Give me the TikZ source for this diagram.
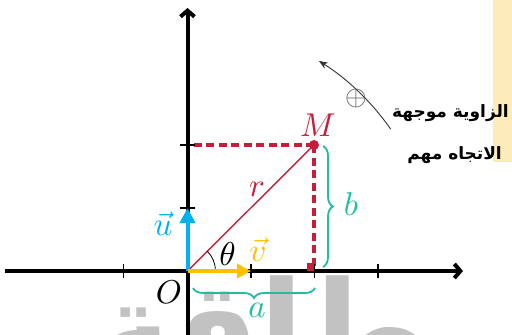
\documentclass[tikz,border=0pt]{standalone}
\usepackage{fontspec}
\usetikzlibrary{arrows.meta,decorations.pathreplacing,calc}
\newfontfamily\arabicfont[Script=Arabic]{DejaVu Sans}
\TeXXeTstate=1
\definecolor{myred}{RGB}{196,30,58}
\definecolor{myblue}{RGB}{0,176,240}
\definecolor{myyellow}{RGB}{255,192,0}
\definecolor{myteal}{RGB}{32,190,160}
\definecolor{wmgray}{RGB}{194,194,194}
\definecolor{paleyellow}{RGB}{253,236,186}
\tikzset{
  axis/.style={line width=4pt,-{Straight Barb[length=6pt,width=14pt]}},
  tick/.style={line width=1.4pt},
  lbl/.style={inner sep=0pt,scale=3.3},
  dashred/.style={myred,line width=3.6pt,dash pattern=on 8pt off 4.5pt},
  tealbrace/.style={myteal,line width=1.8pt,decorate,decoration={brace,amplitude=10pt}},
  artext/.style={inner sep=0pt,font=\arabicfont\bfseries\fontsize{17}{17}\selectfont}
}
\begin{document}
\begin{tikzpicture}[x=1pt,y=-1pt]
\useasboundingbox (0,0) rectangle (512,335);
% background elements
\fill[paleyellow] (493,0) rectangle (512,162);
\node[text=wmgray,inner sep=0pt,anchor=north,font=\arabicfont\bfseries\fontsize{130}{130}\selectfont] (wm) at (290,276) {\beginR بطاقة\endR};
% points
\coordinate (O) at (187.5,271);
\coordinate (M) at (314,145);
\coordinate (Mx) at (314,271);
\coordinate (My) at (187.5,145);
\coordinate (Xs) at (5,271);
\coordinate (Xe) at (463,271);
\coordinate (Ys) at (187.5,335);
\coordinate (Ye) at (187.5,8);
\coordinate (U) at (187.5,208);
\coordinate (V) at (251,271);
% dashed projections
\draw[dashred] (M) -- (My);
\draw[dashred] (M) -- (Mx);
% axes
\draw[axis] (Xs) -- (Xe);
\draw[axis] (Ys) -- (Ye);
% ticks
\foreach \x in {123.5,251,314.5,378} \draw[tick] (\x,264) -- (\x,278);
\foreach \y in {208,145} \draw[tick] (180,\y) -- (195,\y);
% right angle marker
\fill[myred] (306.5,263) rectangle (314,271);
% radius
\draw[myred,line width=1.4pt] (O) -- (M);
\fill[myred] (M) circle (5pt);
% theta arc
\draw[line width=0.8pt] ($(O)+(28,0)$) arc[start angle=0,end angle=-45,radius=28];
% vectors
\draw[myblue,line width=4pt,-{Triangle[length=15pt,width=15pt]}] (O) -- (U);
\draw[myyellow,line width=4pt,-{Triangle[length=14pt,width=14pt]}] (O) -- (V);
% braces
\draw[tealbrace] (315,288) -- (193,288);
\draw[tealbrace] (323,146) -- (323,267);
% labels
\node[lbl,text=myred] (lM) at (318,125) {$M$};
\node[lbl,text=myred] (lr) at (257,189) {$r$};
\node[lbl] (lt) at (227.5,254) {$\theta$};
\node[lbl,text=myblue] (lu) at (163,224) {$\vec{u}$};
\node[lbl,text=myyellow] (lv) at (258,250) {$\vec{v}$};
\node[lbl] (lO) at (169,292) {$O$};
\node[lbl,text=myteal] (la) at (257,310) {$a$};
\node[lbl,text=myteal] (lb) at (351,204) {$b$};
% orientation arc
\draw[line width=0.9pt,black!80,-{Stealth[length=9pt,width=7pt]}] (390.6,129) arc[start angle=-35,end angle=-58,radius=248];
\node[text=black!65,inner sep=0pt,scale=2.8] (op) at (356,98) {$\oplus$};
% arabic text
\node[artext,anchor=east] (t1) at (509,113) {\beginR الزاوية موجهة\endR};
\node[artext,anchor=east] (t2) at (502,155) {\beginR الاتجاه مهم\endR};
\end{tikzpicture}
\end{document}
